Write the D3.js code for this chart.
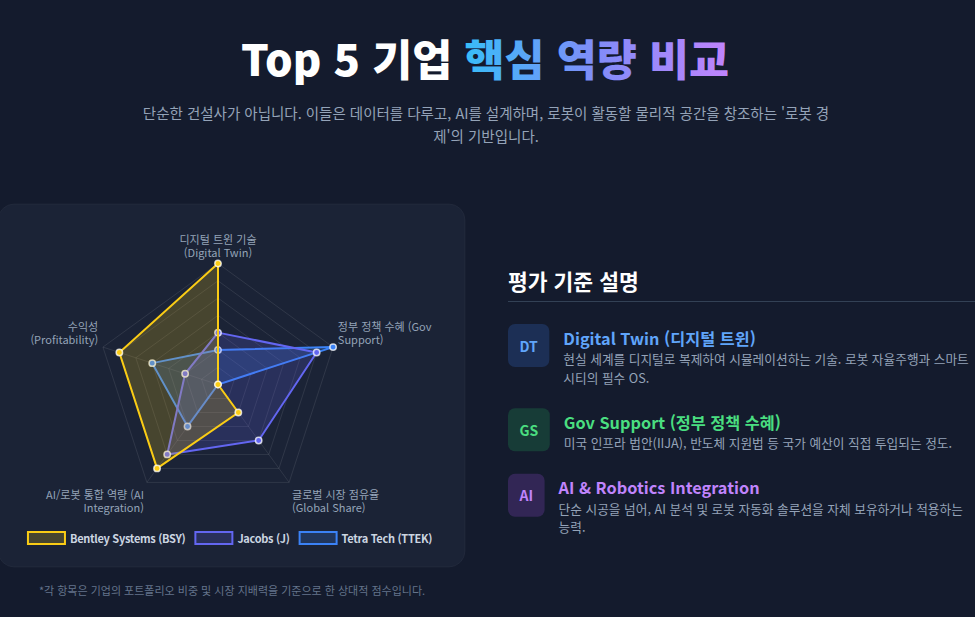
<!DOCTYPE html>
<html lang="ko">
<head>
<meta charset="utf-8">
<script src="https://cdn.jsdelivr.net/npm/d3@7"></script>
<style>
  html, body { margin: 0; padding: 0; background: #141b2d; }
  body { width: 975px; height: 617px; overflow: hidden; }
  svg { display: block; font-family: "Noto Sans CJK KR", "Noto Sans", sans-serif; }
</style>
</head>
<body>
<div id="chart"></div>
<script>
// ---- data ----
var axisLabels = [
  ["디지털 트윈 기술", "(Digital Twin)"],
  ["정부 정책 수혜 (Gov", "Support)"],
  ["글로벌 시장 점유율", "(Global Share)"],
  ["AI/로봇 통합 역량 (AI", "Integration)"],
  ["수익성", "(Profitability)"]
];
var companies = ["Bentley Systems (BSY)", "Jacobs (J)", "Tetra Tech (TTEK)"];
var bentley = [100, 30, 50, 90, 90];
var jacobs = [60, 90, 70, 80, 50];
var tetra = [50, 100, 30, 60, 70];
var scoreRange = [30, 100];

var badges = ["DT", "GS", "AI"];
var criteriaTitles = ["Digital Twin (디지털 트윈)", "Gov Support (정부 정책 수혜)", "AI & Robotics Integration"];
var criteriaDesc = [
  ["현실 세계를 디지털로 복제하여 시뮬레이션하는 기술. 로봇 자율주행과 스마트", "시티의 필수 OS."],
  ["미국 인프라 법안(IIJA), 반도체 지원법 등 국가 예산이 직접 투입되는 정도."],
  ["단순 시공을 넘어, AI 분석 및 로봇 자동화 솔루션을 자체 보유하거나 적용하는", "능력."]
];

var titleWhite = "Top 5 기업 ";
var titleColor = "핵심 역량 비교";
var subtitle = ["단순한 건설사가 아닙니다. 이들은 데이터를 다루고, AI를 설계하며, 로봇이 활동할 물리적 공간을 창조하는 '로봇 경", "제'의 기반입니다."];
var panelTitle = "평가 기준 설명";
var footnote = "*각 항목은 기업의 포트폴리오 비중 및 시장 지배력을 기준으로 한 상대적 점수입니다.";

// ---- styles ----
var seriesColors = ["#facc15", "#6366f1", "#3b82f6"];
var badgeColors = ["#60a5fa", "#4ade80", "#c084fc"];
var badgeFills = ["rgba(59,130,246,0.2)", "rgba(34,197,94,0.2)", "rgba(168,85,247,0.2)"];

var W = 975, H = 617;
var svg = d3.select("#chart").append("svg")
    .attr("width", W)
    .attr("height", H);

svg.append("rect").attr("width", W).attr("height", H).attr("fill", "#141b2d");

// gradient for title
var defs = svg.append("defs");
var grad = defs.append("linearGradient")
    .attr("id", "titleGrad")
    .attr("gradientUnits", "userSpaceOnUse");
grad.append("stop").attr("offset", "0%").attr("stop-color", "#38bdf8");
grad.append("stop").attr("offset", "50%").attr("stop-color", "#818cf8");
grad.append("stop").attr("offset", "100%").attr("stop-color", "#c084fc");

// title
var title = svg.append("text")
    .attr("x", 485)
    .attr("y", 57)
    .attr("text-anchor", "middle")
    .attr("dominant-baseline", "central")
    .style("font-size", "43.5px")
    .style("font-weight", 800);
title.append("tspan").attr("fill", "#ffffff").text(titleWhite);
title.append("tspan").attr("fill", "url(#titleGrad)").text(titleColor);

var tb = title.node().getBBox();
var whiteLen = title.node().getSubStringLength(0, titleWhite.length);
grad.attr("x1", tb.x + whiteLen).attr("x2", tb.x + tb.width).attr("y1", 0).attr("y2", 0);

// subtitle
svg.selectAll(".subtitle")
    .data(subtitle)
    .enter()
    .append("text")
    .attr("class", "subtitle")
    .attr("x", 486)
    .attr("y", function(d, i) { return 112 + i * 23; })
    .attr("text-anchor", "middle")
    .attr("dominant-baseline", "central")
    .attr("fill", "#94a3b8")
    .style("font-size", "14.5px")
    .text(function(d) { return d; });

// card
svg.append("rect")
    .attr("x", -2)
    .attr("y", 204)
    .attr("width", 467)
    .attr("height", 363)
    .attr("rx", 16)
    .attr("fill", "#1b2336")
    .attr("stroke", "rgba(255,255,255,0.04)");

// ---- radar ----
var cx = 218, cy = 384.5, R = 121;
var n = axisLabels.length;
var r = d3.scaleLinear().domain(scoreRange).range([0, R]);
var angle = function(i) { return i * 2 * Math.PI / n - Math.PI / 2; };
var pt = function(i, dist) {
  return [cx + dist * Math.cos(angle(i)), cy + dist * Math.sin(angle(i))];
};

var radar = svg.append("g");

var rings = r.ticks(7).filter(function(t) { return t > scoreRange[0]; });
radar.selectAll(".ring")
    .data(rings)
    .enter()
    .append("polygon")
    .attr("class", "ring")
    .attr("points", function(t) {
      return d3.range(n).map(function(i) { return pt(i, r(t)).join(","); }).join(" ");
    })
    .attr("fill", "none")
    .attr("stroke", "rgba(255,255,255,0.09)")
    .attr("stroke-width", 1);

radar.selectAll(".spoke")
    .data(d3.range(n))
    .enter()
    .append("line")
    .attr("class", "spoke")
    .attr("x1", cx).attr("y1", cy)
    .attr("x2", function(i) { return pt(i, R)[0]; })
    .attr("y2", function(i) { return pt(i, R)[1]; })
    .attr("stroke", "rgba(255,255,255,0.09)")
    .attr("stroke-width", 1);

// axis labels
var lineH = 13;
axisLabels.forEach(function(lines, i) {
  var a = pt(i, R + 5);
  var dx = Math.cos(angle(i)), dy = Math.sin(angle(i));
  var anchor = dx > 0.01 ? "start" : (dx < -0.01 ? "end" : "middle");
  var h = lines.length * lineH;
  var top = dy < -0.01 ? a[1] - h : (dy > 0.01 ? a[1] + 1.5 : a[1] - h / 2);
  radar.selectAll(".lbl" + i)
      .data(lines)
      .enter()
      .append("text")
      .attr("x", a[0])
      .attr("y", function(d, k) { return top + lineH / 2 + k * lineH; })
      .attr("text-anchor", anchor)
      .attr("dominant-baseline", "central")
      .attr("fill", "#94a3b8")
      .style("font-size", "11px")
      .text(function(d) { return d; });
});

// datasets (first dataset drawn last so it sits on top)
var datasets = [bentley, jacobs, tetra];
var line = d3.lineRadial()
    .angle(function(d, i) { return i * 2 * Math.PI / n; })
    .radius(function(d) { return r(d); })
    .curve(d3.curveLinearClosed);

d3.range(datasets.length).reverse().forEach(function(k) {
  var g = radar.append("g").attr("transform", "translate(" + cx + "," + cy + ")");
  g.append("path")
      .datum(datasets[k])
      .attr("d", line)
      .attr("fill", d3.color(seriesColors[k]).copy({opacity: 0.2}))
      .attr("stroke", seriesColors[k])
      .attr("stroke-width", 2)
      .attr("stroke-linejoin", "miter");
  g.selectAll("circle")
      .data(datasets[k])
      .enter()
      .append("circle")
      .attr("cx", function(d, i) { return pt(i, r(d))[0] - cx; })
      .attr("cy", function(d, i) { return pt(i, r(d))[1] - cy; })
      .attr("r", 3.2)
      .attr("fill", seriesColors[k])
      .attr("stroke", "rgba(255,255,255,0.75)")
      .attr("stroke-width", 1.5);
});

// legend
var legend = svg.append("g");
var boxW = 37, boxH = 12, gap = 5, itemPad = 10, legY = 538;
var items = legend.selectAll(".leg")
    .data(companies)
    .enter()
    .append("g")
    .attr("class", "leg");
items.append("rect")
    .attr("width", boxW).attr("height", boxH)
    .attr("y", legY - boxH / 2)
    .attr("fill", function(d, i) { return d3.color(seriesColors[i]).copy({opacity: 0.2}); })
    .attr("stroke", function(d, i) { return seriesColors[i]; })
    .attr("stroke-width", 2);
items.append("text")
    .attr("x", boxW + gap)
    .attr("y", legY)
    .attr("dominant-baseline", "central")
    .attr("fill", "#cbd5e1")
    .style("font-size", "11px")
    .style("font-weight", 600)
    .style("letter-spacing", "-0.3px")
    .text(function(d) { return d; });
var widths = [];
items.each(function() { widths.push(boxW + gap + d3.select(this).select("text").node().getComputedTextLength()); });
var total = d3.sum(widths) + itemPad * (widths.length - 1);
var lx = 230 - total / 2;
items.attr("transform", function(d, i) {
  var x = lx;
  lx += widths[i] + itemPad;
  return "translate(" + x + ",0)";
});

// footnote
svg.append("text")
    .attr("x", 232)
    .attr("y", 590)
    .attr("text-anchor", "middle")
    .attr("dominant-baseline", "central")
    .attr("fill", "#64748b")
    .style("font-size", "11px")
    .text(footnote);

// ---- right panel ----
var px = 508;
svg.append("text")
    .attr("x", px)
    .attr("y", 280)
    .attr("dominant-baseline", "central")
    .attr("fill", "#ffffff")
    .style("font-size", "21.5px")
    .style("font-weight", 700)
    .text(panelTitle);
svg.append("line")
    .attr("x1", px).attr("x2", W)
    .attr("y1", 301.5).attr("y2", 301.5)
    .attr("stroke", "#334155")
    .attr("stroke-width", 1);

var iy = 324;
badges.forEach(function(b, i) {
  var g = svg.append("g");
  var bt = g.append("text")
      .attr("dominant-baseline", "central")
      .attr("text-anchor", "middle")
      .attr("fill", badgeColors[i])
      .style("font-size", "14px")
      .style("font-weight", 700)
      .text(b);
  var bw = bt.node().getComputedTextLength() + 23;
  g.insert("rect", "text")
      .attr("x", px).attr("y", iy)
      .attr("width", bw).attr("height", 43)
      .attr("rx", 7)
      .attr("fill", badgeFills[i]);
  bt.attr("x", px + bw / 2).attr("y", iy + 21.5);

  var tx = px + bw + 14;
  g.append("text")
      .attr("x", tx)
      .attr("y", iy + 13.5)
      .attr("dominant-baseline", "central")
      .attr("fill", badgeColors[i])
      .style("font-size", "16.3px")
      .style("font-weight", 700)
      .text(criteriaTitles[i]);
  g.selectAll(".desc")
      .data(criteriaDesc[i])
      .enter()
      .append("text")
      .attr("x", tx)
      .attr("y", function(d, k) { return iy + 34.5 + k * 18.7; })
      .attr("dominant-baseline", "central")
      .attr("fill", "#94a3b8")
      .style("font-size", "12.7px")
      .text(function(d) { return d; });
  var blockH = Math.max(43, 34.5 + (criteriaDesc[i].length - 1) * 18.7 + 9.5);
  iy += blockH + 21.5;
});
</script>
</body>
</html>
